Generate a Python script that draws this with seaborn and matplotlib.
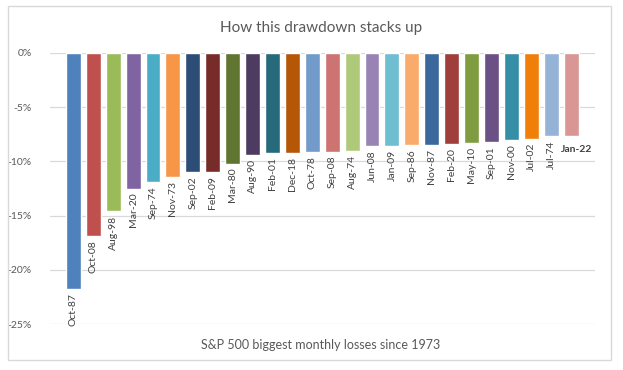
import matplotlib
matplotlib.use("Agg")
import matplotlib.pyplot as plt
import matplotlib.patches as mpatches
import seaborn as sns
import pandas as pd

# Biggest monthly S&P 500 losses (percent)
months = ["Oct-87", "Oct-08", "Aug-98", "Mar-20", "Sep-74", "Nov-73", "Sep-02",
          "Feb-09", "Mar-80", "Aug-90", "Feb-01", "Dec-18", "Oct-78", "Sep-08",
          "Aug-74", "Jun-08", "Jan-09", "Sep-86", "Nov-87", "Feb-20", "May-10",
          "Sep-01", "Nov-00", "Jul-02", "Jul-74", "Jan-22"]
losses = [-21.8, -16.9, -14.6, -12.5, -11.9, -11.4, -11.0, -11.0, -10.2, -9.4,
          -9.2, -9.2, -9.1, -9.1, -9.0, -8.6, -8.6, -8.5, -8.5, -8.4, -8.3,
          -8.2, -8.0, -7.9, -7.7, -7.7]
bar_colors = ["#4F81BD", "#C0504D", "#9BBB59", "#8064A2", "#4BACC6", "#F79646",
              "#2C4D75", "#772C2A", "#5F7530", "#4D3B62", "#276A7C", "#B65708",
              "#729ACA", "#CD7371", "#AFC97A", "#9983B5", "#6FBDD1", "#F9AB6B",
              "#3A679C", "#9F3E3A", "#7F9D40", "#6A5084", "#358EA6", "#F07F09",
              "#95B3D7", "#D99694"]
yticks = [0, -5, -10, -15, -20, -25]

df = pd.DataFrame({"month": months, "loss": losses})

sns.set_style("white")
plt.rcParams["font.family"] = ["Lato", "DejaVu Sans"]

fig = plt.figure(figsize=(6.23, 3.70), dpi=100)
ax = fig.add_axes([0.080, 0.124, 0.875, 0.733])

sns.barplot(data=df, x="month", y="loss", hue="month", palette=bar_colors,
            legend=False, width=0.75, ax=ax, saturation=1)

ax.set_ylim(-25, 0)
ax.set_xlim(-1.18, 26.2)
ax.set_yticks(yticks)
ax.set_yticklabels([f"{t}%" for t in yticks], color="#595959", fontsize=7.5)
ax.set_xticks([])
ax.grid(axis="y", color="#D9D9D9", linewidth=0.9)
ax.set_axisbelow(True)
for s in ax.spines.values():
    s.set_visible(False)
ax.tick_params(axis="y", length=0, pad=13)
ax.set_xlabel("")
ax.set_ylabel("")

# category labels under each bar
for i, (m, v) in enumerate(zip(months, losses)):
    if m == "Jan-22":
        ax.annotate(m, (i, v), xytext=(4, -6), textcoords="offset points",
                    ha="center", va="top", fontsize=7.5, fontweight="bold",
                    color="#404040", annotation_clip=False)
    else:
        ax.annotate(m, (i, v), xytext=(0, -3), textcoords="offset points",
                    ha="center", va="top", rotation=90, fontsize=7.5,
                    color="#404040", annotation_clip=False)

fig.text(0.515, 0.925, "How this drawdown stacks up", ha="center", va="center",
         fontsize=11, color="#595959")
fig.text(0.515, 0.067, "S&P 500 biggest monthly losses since 1973", ha="center",
         va="center", fontsize=9, color="#595959")

fig.patches.append(mpatches.Rectangle((0.013, 0.027), 0.967, 0.957,
                                      transform=fig.transFigure, fill=False,
                                      edgecolor="#D9D9D9", linewidth=1))

fig.savefig("out.png", dpi=100)
